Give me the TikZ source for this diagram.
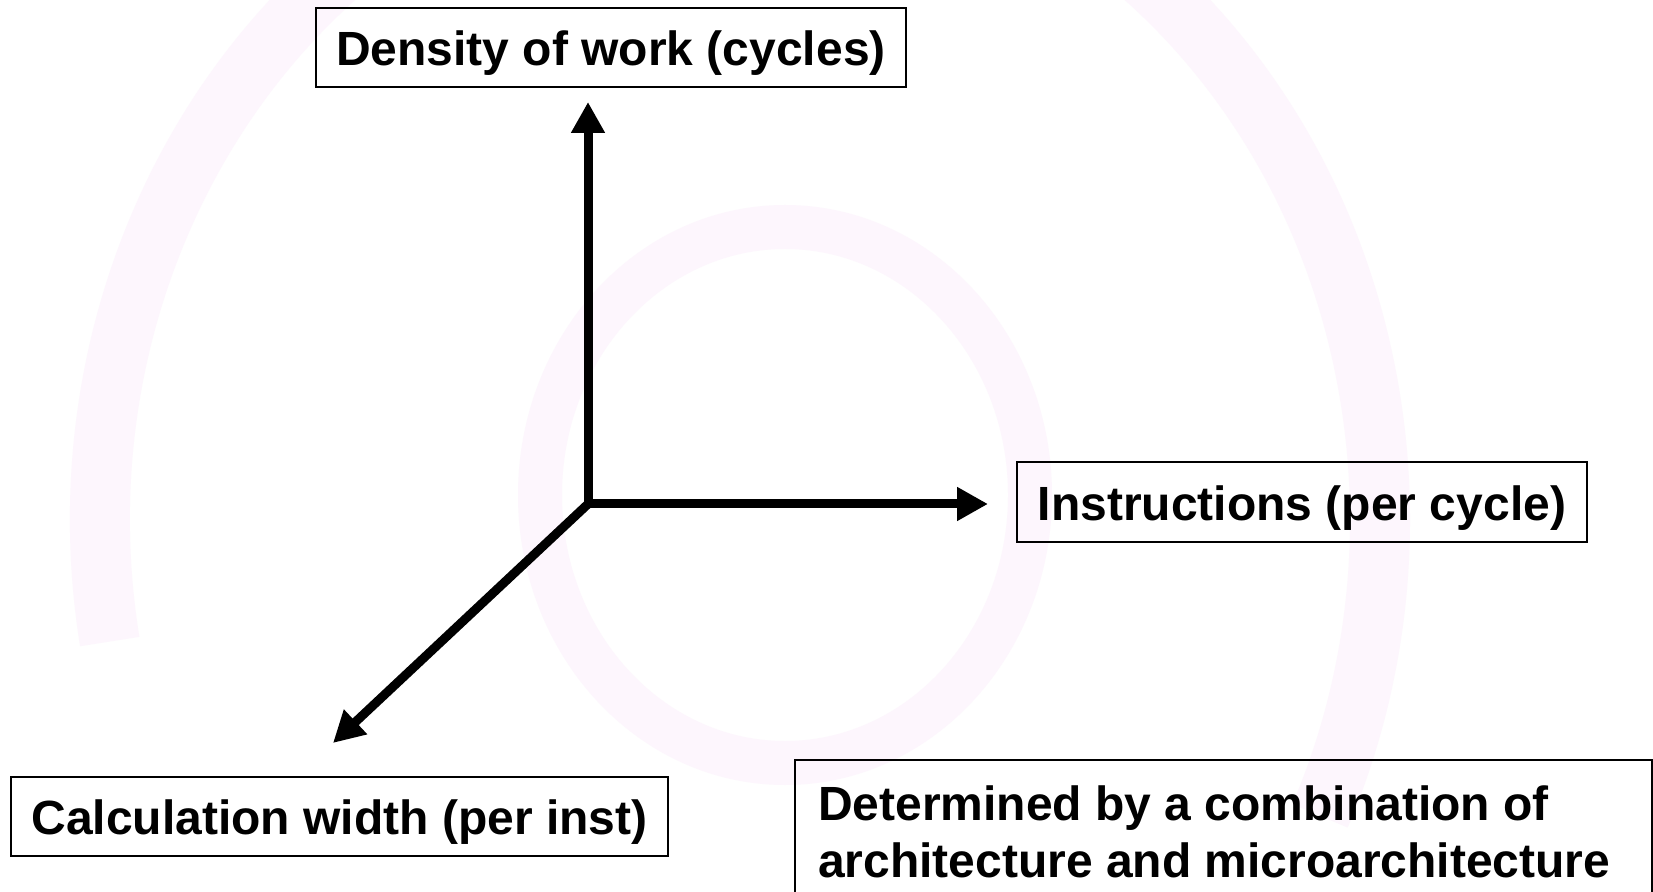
\documentclass[tikz,border=0pt]{standalone}
\usepackage{fontspec}
\setmainfont{Liberation Sans}
\usetikzlibrary{arrows.meta}
\definecolor{wm}{RGB}{253,246,253}
\tikzset{axtip/.tip={Triangle[length=15.5pt,width=16pt]}}
\begin{document}
\begin{tikzpicture}[x=0.5pt,y=-0.5pt,
  lbl/.style={draw=black, line width=1pt, font=\fontsize{24}{28.5}\selectfont\bfseries,
    inner sep=0pt, text height=20pt, text depth=2pt},
  detbox/.style={draw=black, line width=1pt, font=\fontsize{24}{28.5}\selectfont\bfseries,
    anchor=north west, align=flush left, text width=405.5pt, inner xsep=11.5pt, inner ysep=12.5pt,
    text height=17.5pt, text depth=60pt},
  axis/.style={line width=4.5pt, line join=miter},
]
\useasboundingbox[fill=white] (0,0) rectangle (1653,892);
\begin{scope}
\clip (0,0) rectangle (1653,892);
% faint watermark swirl
\draw[wm, line width=30pt] (740,520) ++(170:640 and 700)
  arc[start angle=170, end angle=385, x radius=640, y radius=700];
\draw[wm, line width=22pt] (785,495) ellipse[x radius=245, y radius=268];

% axes
\coordinate (o) at (588,504);
\coordinate (vt) at (588,102);
\coordinate (ht) at (988,504);
\coordinate (dt) at (333,743);
\draw[axis, axtip-axtip] (vt) -- (o) -- (ht);
\draw[axis, -axtip] (o) -- (dt);

% labels
\node[lbl, minimum width=295pt, minimum height=39.5pt] (dens) at (611,47.5) {Density of work (cycles)};
\node[lbl, minimum width=285pt, minimum height=40pt] (inst) at (1302,502) {Instructions (per cycle)};
\node[lbl, minimum width=328.5pt, minimum height=39.5pt] (calc) at (339.5,816.5) {Calculation width (per inst)};
\node[detbox] (det) at (794,759) {Determined by a combination of\\architecture and microarchitecture};
\end{scope}
\end{tikzpicture}
\end{document}
